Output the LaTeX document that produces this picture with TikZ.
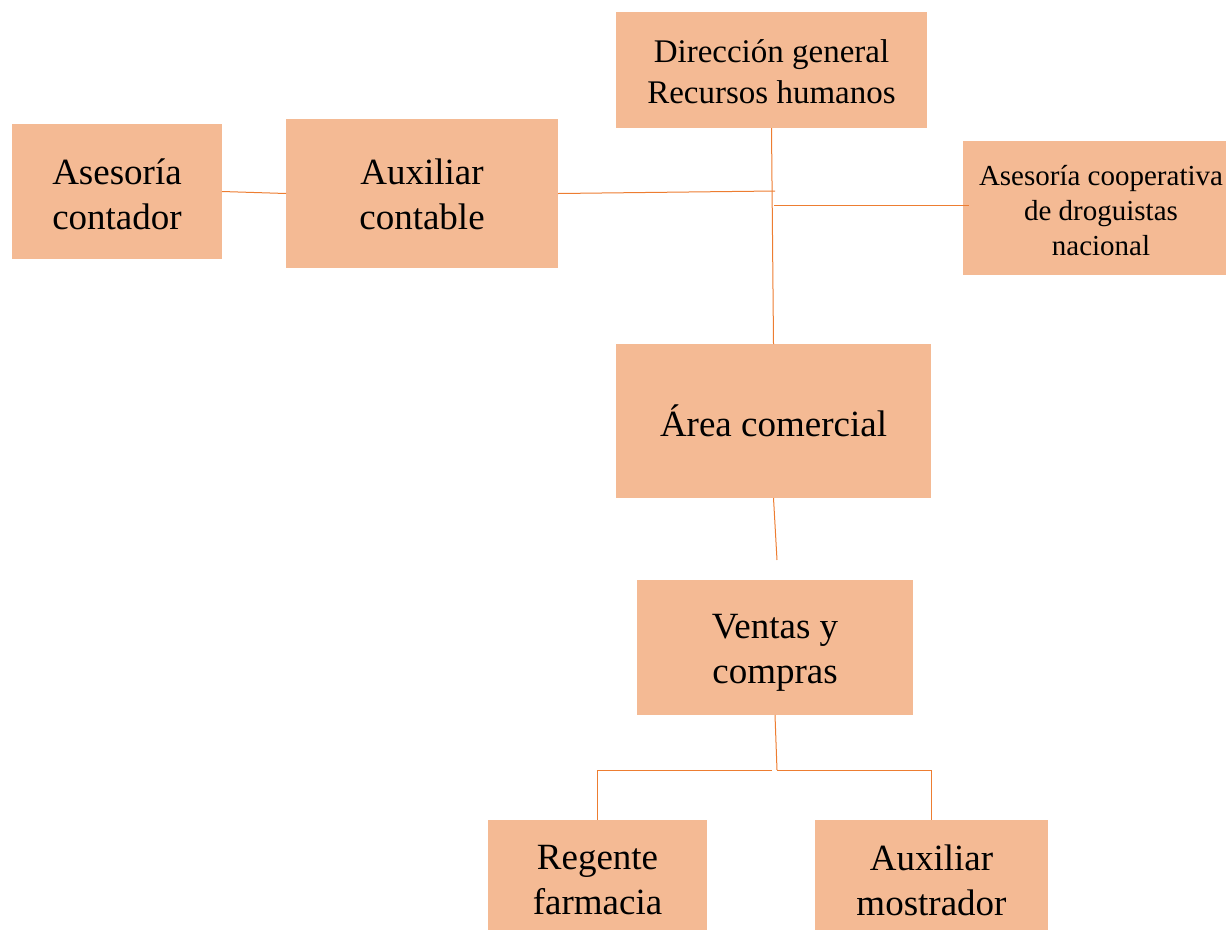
\documentclass[tikz,border=0pt]{standalone}
\usepackage{fontspec}
\setmainfont{Liberation Serif}
\definecolor{boxfill}{RGB}{244,186,148}
\definecolor{linecol}{RGB}{237,125,49}
\begin{document}
\begin{tikzpicture}[x=1pt,y=-1pt,
  box/.style={fill=boxfill,draw=none,inner sep=0pt,outer sep=0pt,align=center},
  txt/.style={inner sep=0pt,align=center},
  big/.style={font=\fontsize{37}{45}\selectfont},
  mid/.style={font=\fontsize{33}{41}\selectfont},
  small/.style={font=\fontsize{29}{35}\selectfont},
  conn/.style={draw=linecol,line width=1pt}]
\useasboundingbox (0,0) rectangle (1226,930);
% boxes
\node[box,minimum width=311pt,minimum height=116pt] (dg) at (771.5,70) {};
\node[txt,mid] (dgtext) at (771.5,72) {Dirección general\\Recursos humanos};
\node[box,minimum width=210pt,minimum height=135pt] (ac) at (117,191.5) {};
\node[txt,big] (actext) at (117,194) {Asesoría\\contador};
\node[box,minimum width=272pt,minimum height=149pt] (aux) at (422,193.5) {};
\node[txt,big] (auxtext) at (422,194) {Auxiliar\\contable};
\node[box,minimum width=263pt,minimum height=134pt] (coop) at (1094.5,208) {};
\node[txt,small] (cooptext) at (1101,211) {Asesoría cooperativa\\de droguistas\\nacional};
\node[box,big,minimum width=315pt,minimum height=154pt] (area) at (773.5,421) {Área comercial};
\node[box,minimum width=276pt,minimum height=135pt] (vc) at (775,647.5) {};
\node[txt,big] (vctext) at (775,653) {Ventas y\\compras};
\node[box,minimum width=219pt,minimum height=110pt] (reg) at (597.5,875) {};
\node[txt,big] (regtext) at (597.5,880) {Regente\\farmacia};
\node[box,minimum width=233pt,minimum height=110pt] (am) at (931.5,875) {};
\node[txt,big] (amtext) at (931.5,880) {Auxiliar\\mostrador};
% junction coordinates
\coordinate (j1) at (775,191);
\coordinate (j2) at (774,205);
\coordinate (aend) at (777,560);
\coordinate (vl) at (772,770);
\coordinate (vr) at (777,770);
% connectors
\draw[conn] (dg.south) -- (area.north);
\draw[conn] (ac.east) -- (aux.west);
\draw[conn] (aux.east) -- (j1);
\draw[conn] (j2) -- ([xshift=6pt]j2 -| coop.west);
\draw[conn] (area.south) -- (aend);
\draw[conn] (vc.south) -- (vr);
\draw[conn] (vl) -| (reg.north);
\draw[conn] (vr) -| (am.north);
\end{tikzpicture}
\end{document}
